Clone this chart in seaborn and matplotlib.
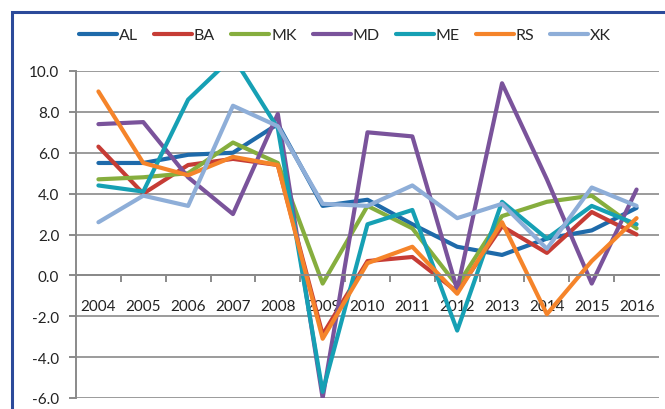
import matplotlib
matplotlib.use("Agg")
import matplotlib.pyplot as plt
from matplotlib.patches import Rectangle
import seaborn as sns
import pandas as pd
import numpy as np

years = ["2004", "2005", "2006", "2007", "2008", "2009", "2010",
         "2011", "2012", "2013", "2014", "2015", "2016"]
AL = [5.5, 5.5, 5.9, 6.0, 7.4, 3.4, 3.7, 2.5, 1.4, 1.0, 1.8, 2.2, 3.3]
BA = [6.3, 4.0, 5.4, 5.7, 5.4, -2.9, 0.7, 0.9, -0.8, 2.4, 1.1, 3.1, 2.0]
MK = [4.7, 4.8, 5.0, 6.5, 5.5, -0.4, 3.4, 2.3, -0.5, 2.9, 3.6, 3.9, 2.3]
MD = [7.4, 7.5, 4.8, 3.0, 7.9, -6.0, 7.0, 6.8, -0.7, 9.4, 4.7, -0.4, 4.2]
ME = [4.4, 4.1, 8.6, 10.7, 7.2, -5.7, 2.5, 3.2, -2.7, 3.6, 1.8, 3.4, 2.5]
RS = [9.0, 5.5, 4.9, 5.8, 5.4, -3.1, 0.6, 1.4, -0.9, 2.6, -1.9, 0.7, 2.8]
XK = [2.6, 3.9, 3.4, 8.3, 7.3, 3.5, 3.4, 4.4, 2.8, 3.5, 1.3, 4.3, 3.4]

series = {"AL": AL, "BA": BA, "MK": MK, "MD": MD, "ME": ME, "RS": RS, "XK": XK}
colors = {"AL": "#1E6AAA", "BA": "#C63C35", "MK": "#86AE3E", "MD": "#7A539B",
          "ME": "#16A0B4", "RS": "#F5842A", "XK": "#8EAED8"}
yticks = [-6, -4, -2, 0, 2, 4, 6, 8, 10]

rows = []
for name, vals in series.items():
    for i, v in enumerate(vals):
        rows.append({"idx": i, "value": v, "country": name})
df = pd.DataFrame(rows)

sns.set_theme(style="white")
plt.rcParams["font.family"] = ["Lato", "DejaVu Sans"]

fig = plt.figure(figsize=(6.65, 4.10), dpi=100)
ax = fig.add_axes([76 / 665, 1 - 399 / 410, (659 - 76) / 665, (399 - 72) / 410])

sns.lineplot(data=df, x="idx", y="value", hue="country", palette=colors,
             linewidth=3.0, ax=ax, legend=True)

ax.set_xlim(-0.5, len(years) - 0.5)
ax.set_ylim(-6, 10)
ax.set_yticks(yticks)
ax.set_yticklabels([f"{t:.1f}" for t in yticks])
ax.grid(axis="y", color="#8A8A8A", linewidth=1.2)
ax.grid(axis="x", visible=False)
ax.set_xlabel("")
ax.set_ylabel("")

for s in ["top", "right"]:
    ax.spines[s].set_visible(False)
ax.spines["left"].set_color("#8A8A8A")
ax.spines["left"].set_linewidth(1.4)
ax.spines["bottom"].set_position(("data", 0))
ax.spines["bottom"].set_color("#8A8A8A")
ax.spines["bottom"].set_linewidth(1.4)

ax.set_xticks(range(len(years)))
ax.set_xticklabels(years)
ax.set_xticks(np.arange(0.5, len(years) - 0.5, 1.0), minor=True)
ax.tick_params(axis="x", which="major", length=0, pad=17, labelsize=11,
               colors="#222222")
ax.tick_params(axis="x", which="minor", length=5, width=1.4, color="#8A8A8A",
               direction="out", bottom=True)
ax.tick_params(axis="y", length=5, width=1.4, color="#8A8A8A", direction="out",
               pad=7, labelsize=11, labelcolor="#222222", left=True)

handles, labels = ax.get_legend_handles_labels()
leg = ax.legend(handles, labels, loc="center", bbox_to_anchor=(345 / 665, 1 - 36 / 410),
                bbox_transform=fig.transFigure, ncol=7, frameon=False,
                fontsize=11.5, handlelength=2.4, handletextpad=0.1,
                columnspacing=1.0, borderpad=0, borderaxespad=0)
for line in leg.get_lines():
    line.set_linewidth(3.0)

fig.patches.append(Rectangle((12 / 665, -0.2), 1.2, (1 - 13 / 410) + 0.2,
                             transform=fig.transFigure, fill=False,
                             edgecolor="#2B4A9A", linewidth=2.2))

fig.savefig("out.png", dpi=100)
